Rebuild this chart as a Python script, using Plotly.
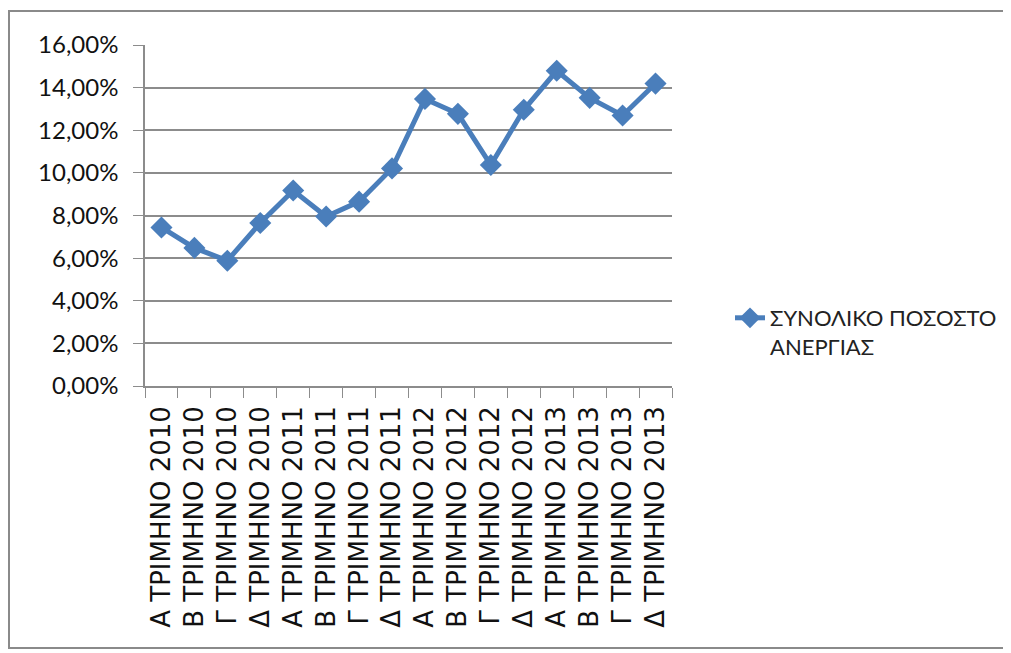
import plotly.graph_objects as go

# Quarterly labels (Greek) and total unemployment rate
quarters = [
    "Α ΤΡΙΜΗΝΟ 2010", "Β ΤΡΙΜΗΝΟ 2010", "Γ ΤΡΙΜΗΝΟ 2010", "Δ ΤΡΙΜΗΝΟ 2010",
    "Α ΤΡΙΜΗΝΟ 2011", "Β ΤΡΙΜΗΝΟ 2011", "Γ ΤΡΙΜΗΝΟ 2011", "Δ ΤΡΙΜΗΝΟ 2011",
    "Α ΤΡΙΜΗΝΟ 2012", "Β ΤΡΙΜΗΝΟ 2012", "Γ ΤΡΙΜΗΝΟ 2012", "Δ ΤΡΙΜΗΝΟ 2012",
    "Α ΤΡΙΜΗΝΟ 2013", "Β ΤΡΙΜΗΝΟ 2013", "Γ ΤΡΙΜΗΝΟ 2013", "Δ ΤΡΙΜΗΝΟ 2013",
]
unemployment = [
    0.0744, 0.0648, 0.0588, 0.0765, 0.0917, 0.0795, 0.0865, 0.1021,
    0.1347, 0.1277, 0.1037, 0.1296, 0.1479, 0.1352, 0.1269, 0.1419,
]
y_ticks = [0, 0.02, 0.04, 0.06, 0.08, 0.10, 0.12, 0.14, 0.16]
y_tick_text = ["0,00%", "2,00%", "4,00%", "6,00%", "8,00%",
               "10,00%", "12,00%", "14,00%", "16,00%"]
series_name = "ΣΥΝΟΛΙΚΟ ΠΟΣΟΣΤΟ<br>ΑΝΕΡΓΙΑΣ"

BLUE = "#4A7EBB"
GRID = "#8c8c8c"

fig = go.Figure()

fig.add_trace(
    go.Scatter(
        x=quarters,
        y=unemployment,
        mode="lines+markers",
        name=series_name,
        line=dict(color=BLUE, width=5),
        marker=dict(symbol="diamond", size=17, color=BLUE),
    )
)

# page has an 8px body margin, so figure coords = page coords - 8
OFF = 8
W, H = 1011, 653
L, T = 145 - OFF, 45 - OFF
R, B = W - (672 - OFF), H - (386 - OFF)
pw, ph = W - L - R, H - T - B

def px_x(p):
    # page pixel -> paper x
    return (p - OFF - L) / pw

def px_y(p):
    # page pixel -> paper y
    return (H - B - (p - OFF)) / ph

# outer chart border
fig.add_shape(
    type="rect", xref="paper", yref="paper",
    x0=px_x(9), x1=px_x(1007), y0=px_y(648), y1=px_y(11),
    line=dict(color="#8a8a8a", width=2),
)

fig.update_layout(
    width=W,
    height=H,
    margin=dict(l=L, r=R, t=T, b=B, pad=0),
    paper_bgcolor="white",
    plot_bgcolor="white",
    showlegend=True,
    legend=dict(
        x=px_x(730), y=px_y(297), xanchor="left", yanchor="top",
        valign="top",
        font=dict(family="Lato", size=22, color="#222222"),
        bgcolor="rgba(0,0,0,0)",
    ),
)

fig.update_xaxes(
    type="category",
    range=[-0.5, len(quarters) - 0.5],
    tickangle=-90,
    tickson="boundaries",
    ticks="outside",
    ticklen=10,
    tickcolor=GRID,
    ticklabelstandoff=8,
    showline=True,
    linecolor=GRID,
    linewidth=1.5,
    showgrid=False,
    tickfont=dict(family="DejaVu Sans", size=26, color="#111111"),
)

fig.update_yaxes(
    range=[0, 0.16],
    tickvals=y_ticks,
    ticktext=y_tick_text,
    ticks="outside",
    ticklen=10,
    tickcolor=GRID,
    ticklabelstandoff=10,
    showline=True,
    linecolor=GRID,
    linewidth=1.5,
    showgrid=True,
    gridcolor=GRID,
    gridwidth=1.5,
    zeroline=False,
    tickfont=dict(family="Lato", size=24, color="#111111"),
)

fig.write_html("out.html")
